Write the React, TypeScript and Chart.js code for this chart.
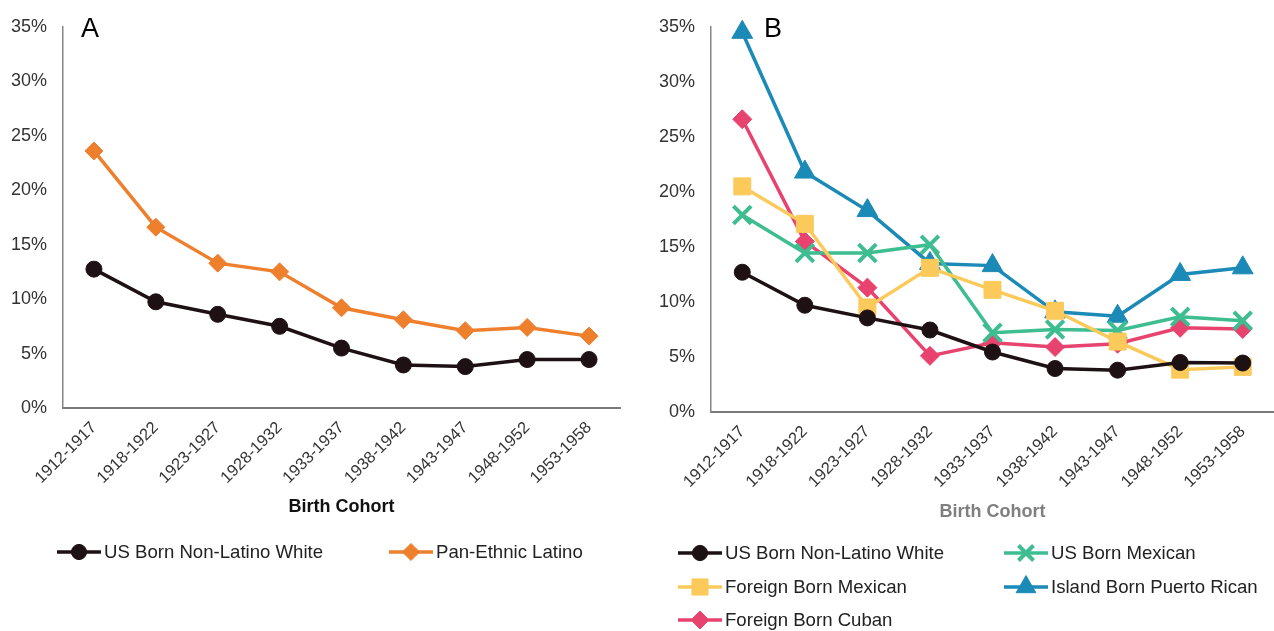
import React, { useEffect, useRef } from 'react';
import { Chart, registerables } from 'chart.js';
import { drawPoint } from 'chart.js/helpers';

Chart.register(...registerables);

const cohorts = ['1912-1917', '1918-1922', '1923-1927', '1928-1932', '1933-1937', '1938-1942', '1943-1947', '1948-1952', '1953-1958'];
const yTickValues = [0, 5, 10, 15, 20, 25, 30, 35];

const whiteA = [12.75, 9.75, 8.6, 7.5, 5.5, 3.95, 3.8, 4.45, 4.45];
const latinoA = [23.6, 16.6, 13.3, 12.5, 9.2, 8.1, 7.1, 7.4, 6.6];

const whiteB = [12.7, 9.7, 8.55, 7.45, 5.45, 3.95, 3.8, 4.5, 4.45];
const usMexicanB = [17.9, 14.45, 14.45, 15.2, 7.2, 7.5, 7.4, 8.65, 8.3];
const fbMexicanB = [20.5, 17.1, 9.5, 13.1, 11.1, 9.2, 6.4, 3.85, 4.1];
const puertoRicanB = [34.5, 21.8, 18.3, 13.5, 13.3, 9.1, 8.7, 12.5, 13.1];
const cubanB = [26.6, 15.5, 11.3, 5.1, 6.3, 5.9, 6.2, 7.65, 7.55];

const FONT = '"Liberation Sans", Arial, sans-serif';

const C_BLACK = '#1e1114';
const C_ORANGE = '#ee7f2d';
const C_GREEN = '#3dbd90';
const C_YELLOW = '#fbca5b';
const C_BLUE = '#1c8ab7';
const C_PINK = '#e8426f';

type Style = { label: string; color: string; pointStyle: string; radius: number; borderWidth: number };

const sWhite: Style = { label: 'US Born Non-Latino White', color: C_BLACK, pointStyle: 'circle', radius: 8, borderWidth: 1 };
const sLatino: Style = { label: 'Pan-Ethnic Latino', color: C_ORANGE, pointStyle: 'rectRot', radius: 9, borderWidth: 1 };
const sUsMex: Style = { label: 'US Born Mexican', color: C_GREEN, pointStyle: 'crossRot', radius: 12.5, borderWidth: 4 };
const sFbMex: Style = { label: 'Foreign Born Mexican', color: C_YELLOW, pointStyle: 'rect', radius: 12, borderWidth: 1 };
const sPR: Style = { label: 'Island Born Puerto Rican', color: C_BLUE, pointStyle: 'triangle', radius: 12, borderWidth: 1 };
const sCuban: Style = { label: 'Foreign Born Cuban', color: C_PINK, pointStyle: 'rectRot', radius: 9.5, borderWidth: 1 };

function ds(s: Style, data: number[]) {
  return {
    label: s.label,
    data,
    borderColor: s.color,
    backgroundColor: s.color,
    borderWidth: 3.5,
    pointStyle: s.pointStyle,
    pointRadius: s.radius,
    pointHoverRadius: s.radius,
    pointBorderWidth: s.borderWidth,
    pointBackgroundColor: s.color,
    pointBorderColor: s.color,
    tension: 0,
    clip: false as const,
  };
}

type LegendItem = { s: Style; x: number; y: number };

function makeExtras(letter: string, letterX: number, items: LegendItem[]) {
  return {
    id: 'extras',
    afterDraw(chart: any) {
      const ctx = chart.ctx as CanvasRenderingContext2D;
      ctx.save();
      ctx.fillStyle = '#000';
      ctx.font = `27px ${FONT}`;
      ctx.textAlign = 'left';
      ctx.textBaseline = 'alphabetic';
      ctx.fillText(letter, letterX, 37);
      for (const it of items) {
        const { s, x, y } = it;
        ctx.strokeStyle = s.color;
        ctx.lineWidth = 3.5;
        ctx.beginPath();
        ctx.moveTo(x - 22, y);
        ctx.lineTo(x + 22, y);
        ctx.stroke();
        ctx.fillStyle = s.color;
        ctx.strokeStyle = s.color;
        ctx.lineWidth = s.borderWidth;
        const r = s.pointStyle === 'crossRot' ? s.radius * 0.85 : s.radius * 0.95;
        drawPoint(ctx, { pointStyle: s.pointStyle as any, rotation: 0, radius: r, borderWidth: s.borderWidth }, x, y);
        ctx.fillStyle = '#222';
        ctx.font = `18.6px ${FONT}`;
        ctx.textBaseline = 'middle';
        ctx.textAlign = 'left';
        ctx.fillText(s.label, x + 25, y + 1);
      }
      ctx.restore();
    },
  };
}

function makeOptions(yWidth: number, xHeight: number, padRight: number, top: number, titleColor: string, titlePadBottom: number) {
  return {
    responsive: false,
    animation: false as const,
    layout: { autoPadding: false, padding: { top, right: padRight, left: 0, bottom: 0 } },
    plugins: { legend: { display: false }, tooltip: { enabled: false } },
    scales: {
      x: {
        type: 'category' as const,
        offset: true,
        grid: { display: true, color: 'rgba(0,0,0,0)', drawTicks: false },
        border: { display: true, color: '#7a7a7a', width: 2 },
        ticks: {
          minRotation: 45,
          maxRotation: 45,
          padding: 10,
          color: '#333',
          font: { family: FONT, size: 16.5 },
          autoSkip: false,
        },
        title: {
          display: true,
          text: 'Birth Cohort',
          color: titleColor,
          font: { family: FONT, size: 18, weight: 'bold' as const },
          padding: { top: 0, bottom: titlePadBottom },
        },
        afterFit(scale: any) {
          scale.height = xHeight;
          scale.paddingRight = 0;
          scale.paddingLeft = 0;
        },
      },
      y: {
        min: 0,
        max: 35,
        grid: { display: true, color: 'rgba(0,0,0,0)', drawTicks: false },
        border: { display: true, color: '#858585', width: 1.5 },
        afterBuildTicks(scale: any) {
          scale.ticks = yTickValues.map((v) => ({ value: v }));
        },
        ticks: {
          padding: 16,
          color: '#333',
          font: { family: FONT, size: 18 },
          callback: (v: any) => `${v}%`,
        },
        afterFit(scale: any) {
          scale.width = yWidth;
        },
      },
    },
  };
}

function PanelA() {
  const ref = useRef<HTMLCanvasElement>(null);
  useEffect(() => {
    const chart = new Chart(ref.current!, {
      type: 'line',
      data: { labels: cohorts, datasets: [ds(sWhite, whiteA), ds(sLatino, latinoA)] as any },
      options: makeOptions(63, 223, 10, 21, '#111', 113) as any,
      plugins: [makeExtras('A', 81, [
        { s: sWhite, x: 79, y: 552 },
        { s: sLatino, x: 411, y: 552 },
      ])],
    });
    return () => chart.destroy();
  }, []);
  return <canvas ref={ref} width={630} height={631} style={{ position: 'absolute', left: 0, top: 0 }} />;
}

function PanelB() {
  const ref = useRef<HTMLCanvasElement>(null);
  useEffect(() => {
    const chart = new Chart(ref.current!, {
      type: 'line',
      data: {
        labels: cohorts,
        datasets: [
          ds(sWhite, whiteB),
          ds(sFbMex, fbMexicanB),
          ds(sUsMex, usMexicanB),
          ds(sPR, puertoRicanB),
          ds(sCuban, cubanB),
        ] as any,
      },
      options: makeOptions(81, 219, 0, 22, '#7f7f7f', 108) as any,
      plugins: [makeExtras('B', 134, [
        { s: sWhite, x: 70, y: 553 },
        { s: sUsMex, x: 396, y: 553 },
        { s: sFbMex, x: 70, y: 587 },
        { s: sPR, x: 396, y: 587 },
        { s: sCuban, x: 70, y: 620 },
      ])],
    });
    return () => chart.destroy();
  }, []);
  return <canvas ref={ref} width={644} height={631} style={{ position: 'absolute', left: 630, top: 0 }} />;
}

export default function App() {
  return (
    <div style={{ position: 'fixed', left: 0, top: 0, width: 1274, height: 631, background: '#fff', overflow: 'hidden' }}>
      <PanelA />
      <PanelB />
    </div>
  );
}
